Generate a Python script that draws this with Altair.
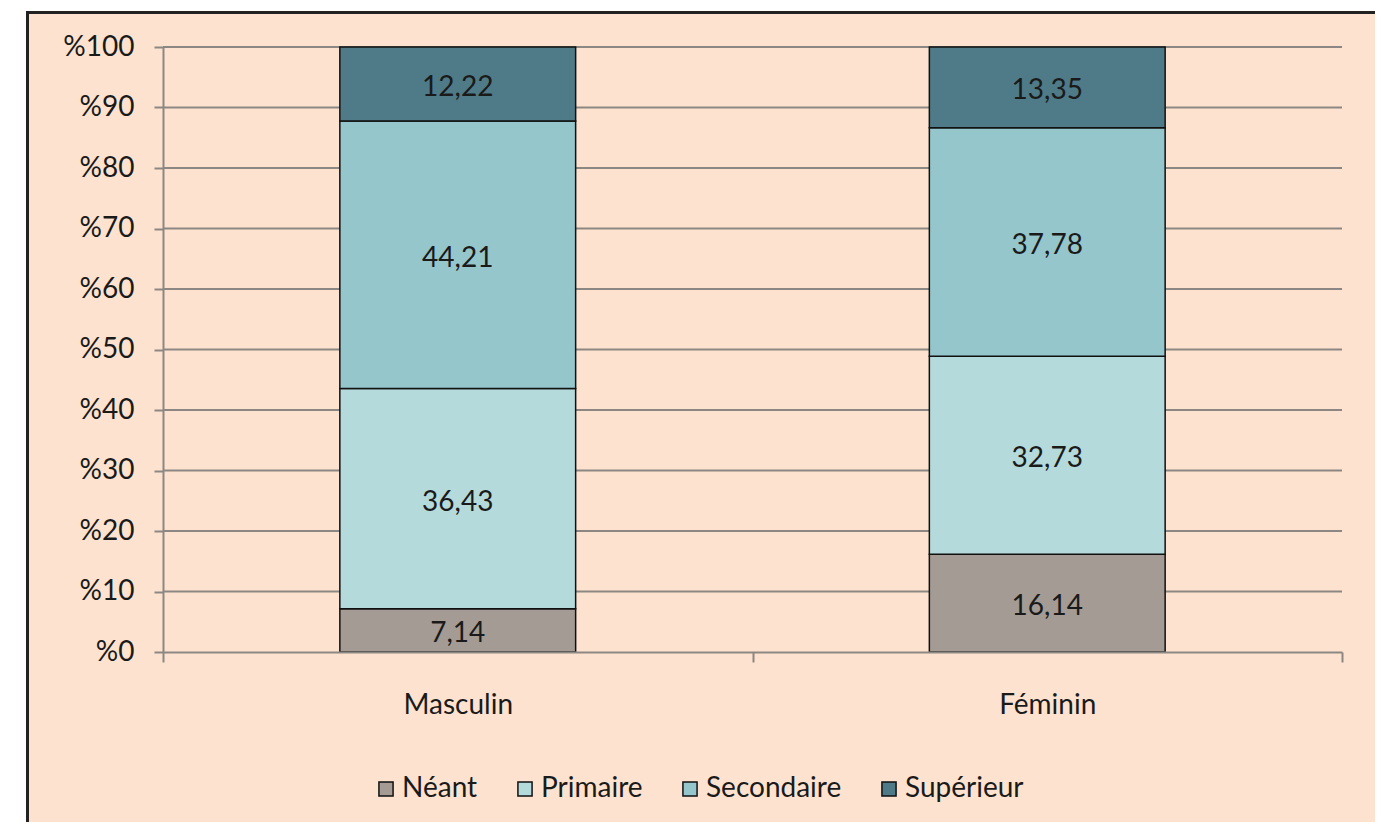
import altair as alt
import pandas as pd

sexes = ["Masculin", "Féminin"]
niveaux = ["Néant", "Primaire", "Secondaire", "Supérieur"]
masculin = [7.14, 36.43, 44.21, 12.22]
feminin = [16.14, 32.73, 37.78, 13.35]
couleurs = ["#A39B94", "#B5DADB", "#94C6CC", "#4E7B87"]
y_ticks = [0, 10, 20, 30, 40, 50, 60, 70, 80, 90, 100]

rows = []
for s, vals in zip(sexes, [masculin, feminin]):
    for i, (n, v) in enumerate(zip(niveaux, vals)):
        rows.append({"sexe": s, "niveau": n, "ordre": i, "valeur": v,
                     "label": f"{v:.2f}".replace(".", ",")})
df = pd.DataFrame(rows)
grid_df = pd.DataFrame({"t": y_ticks[1:]})

FONT = "Lato"
PEACH = "#FDE3CF"
GRID = "#8C8782"

W, H = 1179, 605

frame = alt.Chart(pd.DataFrame({"k": [0]})).mark_rect(
    fill=PEACH, stroke="#222222", strokeWidth=3
).encode(
    x=alt.value(-135.5), x2=alt.value(1216),
    y=alt.value(-34.5), y2=alt.value(820)
)

yscale = alt.Scale(domain=[0, 100], nice=False)
yaxis = alt.Axis(values=y_ticks, labelExpr="'%' + datum.value",
                 labelFont=FONT, labelFontSize=28, labelColor="#1a1a1a",
                 labelPadding=20, tickSize=9, tickColor=GRID, tickWidth=2,
                 domainColor=GRID, domainWidth=2, grid=False, zindex=1)

gridlines = alt.Chart(grid_df).mark_rule(color=GRID, strokeWidth=2).encode(
    y=alt.Y("t:Q", scale=yscale, axis=yaxis, title=None)
)

base = alt.Chart(df).transform_stack(
    stack="valeur", groupby=["sexe"], as_=["y0", "y1"],
    sort=[alt.SortField("ordre", order="ascending")]
)

xscale = alt.Scale(paddingInner=0, paddingOuter=0)
xenc = alt.X("sexe:N", sort=sexes, title=None, scale=xscale,
             axis=alt.Axis(labelAngle=0, labelFont=FONT, labelFontSize=28,
                           labelColor="#1a1a1a", labelPadding=29,
                           tickBand="extent", tickSize=10, tickColor=GRID,
                           tickWidth=2, domainColor=GRID, domainWidth=2,
                           grid=False, zindex=1))

bars = base.mark_bar(stroke="#111111", strokeWidth=1.5,
                     width=alt.RelativeBandSize(0.4)).encode(
    x=xenc,
    y=alt.Y("y0:Q", title=None, scale=yscale, axis=yaxis),
    y2="y1:Q",
    color=alt.Color("niveau:N", sort=niveaux, title=None,
                    scale=alt.Scale(domain=niveaux, range=couleurs),
                    legend=alt.Legend(orient="none", direction="horizontal",
                                      legendX=209, legendY=728,
                                      symbolType="square", symbolSize=200,
                                      symbolStrokeColor="#111111",
                                      symbolStrokeWidth=1.5, symbolOpacity=1,
                                      labelFont=FONT, labelFontSize=28,
                                      labelColor="#1a1a1a", labelOffset=2,
                                      columnPadding=33)),
)

texts = base.transform_calculate(mid="(datum.y0 + datum.y1) / 2").mark_text(
    font=FONT, fontSize=28, color="#1a1a1a", baseline="middle", dy=4
).encode(
    x=alt.X("sexe:N", sort=sexes, scale=xscale),
    y=alt.Y("mid:Q", scale=yscale),
    text="label:N",
)

chart = alt.layer(frame, gridlines, bars, texts).properties(
    width=W, height=H,
    autosize=alt.AutoSizeParams(type="none"),
    padding={"left": 155, "top": 39, "right": 33, "bottom": 170},
    background="white",
).configure_view(stroke=None)

chart.save("out.html", embed_options={"renderer": "svg", "actions": False})
